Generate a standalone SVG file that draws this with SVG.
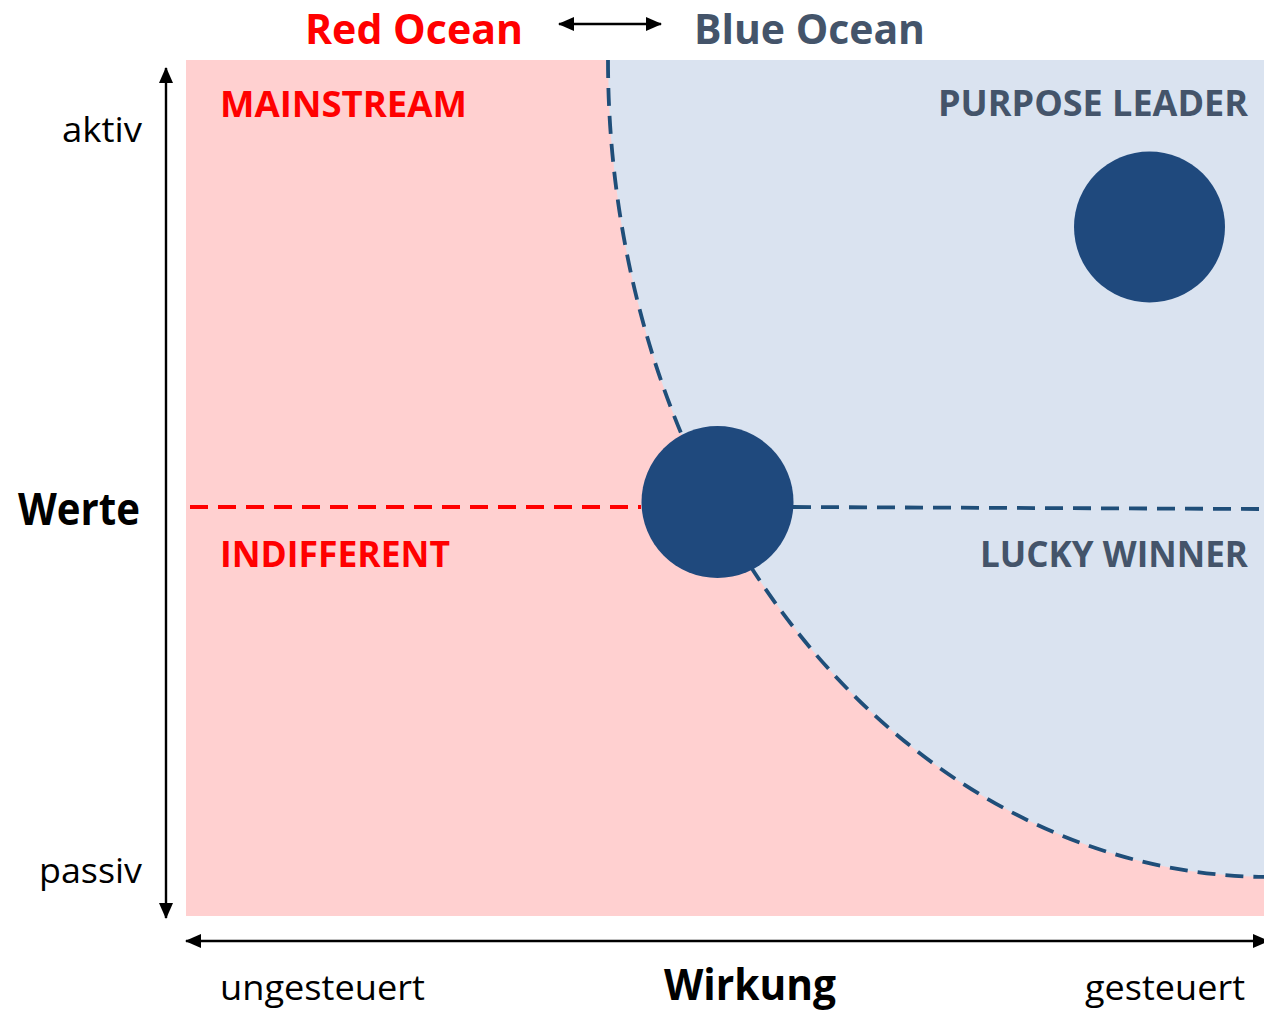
<svg xmlns="http://www.w3.org/2000/svg" width="1264" height="1011" viewBox="0 0 1264 1011">
<defs>
<marker id="ah" viewBox="0 0 16 14" refX="15" refY="7" markerWidth="16" markerHeight="14" markerUnits="userSpaceOnUse" orient="auto-start-reverse">
<path d="M0,0 L16,7 L0,14 Z" fill="#000"/>
</marker>
</defs>
<style>
text{font-family:"Open Sans","Noto Sans",sans-serif;}
.b{font-weight:bold;}
.red{fill:#FF0000;}
.slate{fill:#44546A;}
.blk{fill:#000;}
.axis{stroke:#000;stroke-width:2.4;fill:none;}
.dash{fill:none;stroke-width:3.8;stroke-dasharray:18 10;}
.dot{fill:#1F497D;}
</style>
<g id="background">
<rect x="186" y="60" width="1078" height="856" fill="#FFD0D0"/>
<path d="M608,60 A662,817 0 0 0 1270,877 L1270,60 Z" fill="#DAE3F0"/>
</g>
<g id="connectors">
<path class="dash" stroke="#1F4E79" d="M608,60 A662,817 0 0 0 1270,877"/>
<line class="dash" stroke="#FF0000" x1="190" y1="507" x2="641" y2="507"/>
<line class="dash" stroke="#1F4E79" x1="793" y1="507" x2="1264" y2="509"/>
<line class="axis" x1="166" y1="68" x2="166" y2="918" marker-start="url(#ah)" marker-end="url(#ah)"/>
<line class="axis" x1="186" y1="941" x2="1268" y2="941" marker-start="url(#ah)" marker-end="url(#ah)"/>
<line class="axis" stroke-width="2" x1="559" y1="24" x2="661" y2="24" marker-start="url(#ah)" marker-end="url(#ah)"/>
</g>
<g id="node-center"><circle class="dot" cx="717.5" cy="502" r="76"/></g>
<g id="node-leader"><circle class="dot" cx="1149.5" cy="227" r="75.5"/></g>
<g id="labels">
<text class="b red" x="305" y="44" font-size="41" textLength="218" lengthAdjust="spacingAndGlyphs">Red Ocean</text>
<text class="b slate" x="694" y="44" font-size="41" textLength="231" lengthAdjust="spacingAndGlyphs">Blue Ocean</text>
<text class="b red" x="220" y="117" font-size="36" textLength="247" lengthAdjust="spacingAndGlyphs">MAINSTREAM</text>
<text class="b slate" x="938" y="116" font-size="36" textLength="310" lengthAdjust="spacingAndGlyphs">PURPOSE LEADER</text>
<text class="b red" x="220" y="567" font-size="36" textLength="230" lengthAdjust="spacingAndGlyphs">INDIFFERENT</text>
<text class="b slate" x="980" y="567" font-size="36" textLength="268" lengthAdjust="spacingAndGlyphs">LUCKY WINNER</text>
<text class="b blk" x="18" y="525" font-size="45" textLength="122" lengthAdjust="spacingAndGlyphs">Werte</text>
<text class="blk" x="62" y="142" font-size="34" textLength="80" lengthAdjust="spacingAndGlyphs">aktiv</text>
<text class="blk" x="39" y="883" font-size="34" textLength="103" lengthAdjust="spacingAndGlyphs">passiv</text>
<text class="blk" x="220" y="1000" font-size="34" textLength="205" lengthAdjust="spacingAndGlyphs">ungesteuert</text>
<text class="b blk" x="664" y="1000" font-size="43" textLength="172" lengthAdjust="spacingAndGlyphs">Wirkung</text>
<text class="blk" x="1085" y="1000" font-size="34" textLength="160" lengthAdjust="spacingAndGlyphs">gesteuert</text>
</g>
</svg>
